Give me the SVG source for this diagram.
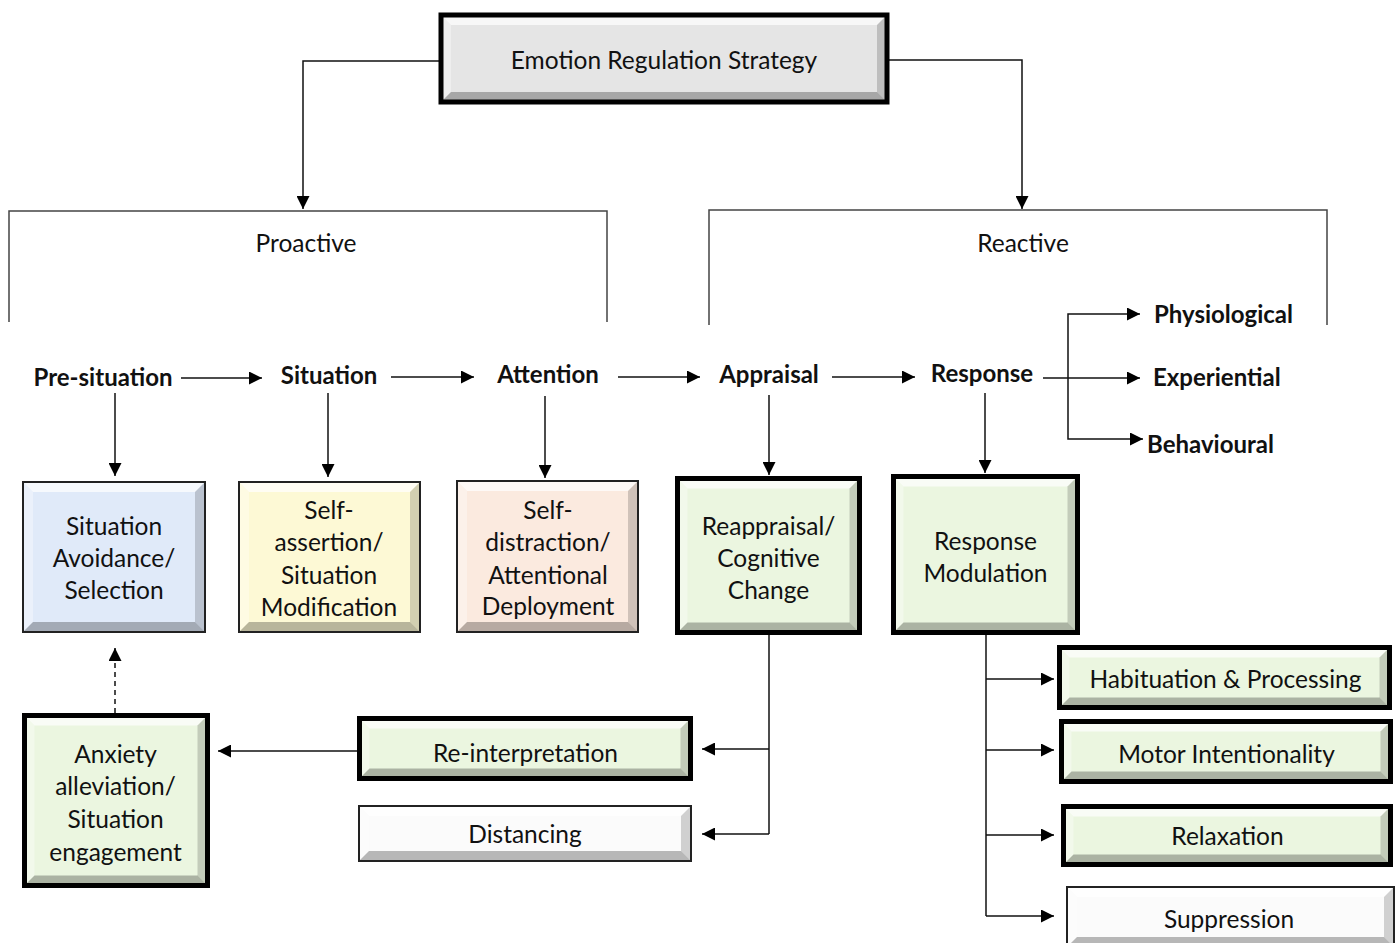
<svg xmlns="http://www.w3.org/2000/svg" width="1397" height="943" viewBox="0 0 1397 943">
<defs>
<marker id="ah" viewBox="0 0 10 10" refX="10" refY="5" markerWidth="13" markerHeight="13" markerUnits="userSpaceOnUse" orient="auto"><path d="M0,0 L10,5 L0,10 z" fill="#000"/></marker>
<style>
text{font-family:Lato,"Open Sans","Liberation Sans",sans-serif;fill:#111;text-anchor:middle}
.t{font-size:24.5px}
.b{font-size:24px;font-weight:bold}
.bs{font-size:24px;font-weight:bold;text-anchor:start}
.ln{fill:none;stroke:#111;stroke-width:1.5}
.br{fill:none;stroke:#444;stroke-width:1.5}
.arr{fill:none;stroke:#111;stroke-width:1.5;marker-end:url(#ah)}
.thick{fill:none;stroke:#000;stroke-width:5}
.thin{fill:none;stroke:#222;stroke-width:2}
.gray{fill:#e5e5e5}.blue{fill:#e0eaf9}.yel{fill:#fdf9d5}.pea{fill:#fbeadf}.grn{fill:#ebf6e0}.wht{fill:#fbfbfb}
.bt{fill:#fff;fill-opacity:.7}.bl{fill:#fff;fill-opacity:.35}.bR{fill:#000;fill-opacity:.17}.bB{fill:#000;fill-opacity:.27}
</style>
</defs>

<g id="connectors">
<polyline class="arr" points="440,61 303,61 303,209"/>
<polyline class="arr" points="888,60 1022,60 1022,209"/>
<polyline class="br" points="9,322 9,211 607,211 607,322"/>
<polyline class="br" points="709,325 709,210 1327,210 1327,325"/>
<line class="arr" x1="181" y1="378" x2="262" y2="378"/>
<line class="arr" x1="391" y1="377" x2="474" y2="377"/>
<line class="arr" x1="618" y1="377" x2="700" y2="377"/>
<line class="arr" x1="832" y1="377" x2="915" y2="377"/>
<line class="arr" x1="1043" y1="378" x2="1140" y2="378"/>
<polyline class="arr" points="1068,376 1068,314 1140,314"/>
<polyline class="arr" points="1068,376 1068,439 1143,439"/>
<line class="arr" x1="115" y1="393" x2="115" y2="476"/>
<line class="arr" x1="328" y1="393" x2="328" y2="477"/>
<line class="arr" x1="545" y1="396" x2="545" y2="478"/>
<line class="arr" x1="769" y1="395" x2="769" y2="475"/>
<line class="arr" x1="985" y1="393" x2="985" y2="473"/>
<line class="arr" x1="115" y1="713" x2="115" y2="648" stroke-dasharray="5,4"/>
<line class="arr" x1="357" y1="751" x2="218" y2="751"/>
<polyline class="ln" points="769,635 769,834"/>
<line class="arr" x1="769" y1="749" x2="702" y2="749"/>
<line class="arr" x1="769" y1="834" x2="702" y2="834"/>
<polyline class="ln" points="986,635 986,916"/>
<line class="arr" x1="986" y1="679" x2="1054" y2="679"/>
<line class="arr" x1="986" y1="750" x2="1054" y2="750"/>
<line class="arr" x1="986" y1="835" x2="1054" y2="835"/>
<line class="arr" x1="986" y1="916" x2="1054" y2="916"/>
</g>

<g id="labels">
<text class="t" x="306" y="252">Proactive</text>
<text class="t" x="1023" y="252">Reactive</text>
<text class="b" x="103" y="386">Pre-situation</text>
<text class="b" x="329" y="384">Situation</text>
<text class="b" x="548" y="383">Attention</text>
<text class="b" x="769" y="383">Appraisal</text>
<text class="b" x="982" y="382">Response</text>
<text class="bs" x="1154" y="323">Physiological</text>
<text class="bs" x="1153" y="386">Experiential</text>
<text class="bs" x="1147" y="453">Behavioural</text>
</g>

<g id="n-top" transform="translate(441,15)">
<rect class="gray" width="446" height="87"/>
<polygon class="bt" points="0,0 446,0 436,10 10,10"/><polygon class="bl" points="0,0 10,10 10,77 0,87"/>
<polygon class="bR" points="446,0 446,87 436,77 436,10"/><polygon class="bB" points="0,87 446,87 436,77 10,77"/>
<rect class="thick" width="446" height="87"/>
<text class="t" x="223" y="54">Emotion Regulation Strategy</text>
</g>

<g id="n-avoid" transform="translate(23,482)">
<rect class="blue" width="182" height="150"/>
<polygon class="bt" points="0,0 182,0 172,10 10,10"/><polygon class="bl" points="0,0 10,10 10,140 0,150"/>
<polygon class="bR" points="182,0 182,150 172,140 172,10"/><polygon class="bB" points="0,150 182,150 172,140 10,140"/>
<rect class="thin" width="182" height="150"/>
<text class="t" x="91" y="53">Situation</text><text class="t" x="91" y="85">Avoidance/</text><text class="t" x="91" y="117">Selection</text>
</g>

<g id="n-assert" transform="translate(239,482)">
<rect class="yel" width="181" height="150"/>
<polygon class="bt" points="0,0 181,0 171,10 10,10"/><polygon class="bl" points="0,0 10,10 10,140 0,150"/>
<polygon class="bR" points="181,0 181,150 171,140 171,10"/><polygon class="bB" points="0,150 181,150 171,140 10,140"/>
<rect class="thin" width="181" height="150"/>
<text class="t" x="90" y="37">Self-</text><text class="t" x="90" y="69">assertion/</text><text class="t" x="90" y="102">Situation</text><text class="t" x="90" y="134">Modification</text>
</g>

<g id="n-distract" transform="translate(457,481)">
<rect class="pea" width="181" height="151"/>
<polygon class="bt" points="0,0 181,0 171,10 10,10"/><polygon class="bl" points="0,0 10,10 10,141 0,151"/>
<polygon class="bR" points="181,0 181,151 171,141 171,10"/><polygon class="bB" points="0,151 181,151 171,141 10,141"/>
<rect class="thin" width="181" height="151"/>
<text class="t" x="91" y="38">Self-</text><text class="t" x="91" y="70">distraction/</text><text class="t" x="91" y="103">Attentional</text><text class="t" x="91" y="134">Deployment</text>
</g>

<g id="n-reappraisal" transform="translate(677.5,478.5)">
<rect class="grn" width="182" height="154"/>
<polygon class="bt" points="0,0 182,0 172,10 10,10"/><polygon class="bl" points="0,0 10,10 10,144 0,154"/>
<polygon class="bR" points="182,0 182,154 172,144 172,10"/><polygon class="bB" points="0,154 182,154 172,144 10,144"/>
<rect class="thick" width="182" height="154"/>
<text class="t" x="91" y="56">Reappraisal/</text><text class="t" x="91" y="88">Cognitive</text><text class="t" x="91" y="120">Change</text>
</g>

<g id="n-respmod" transform="translate(893.5,476.5)">
<rect class="grn" width="184" height="156"/>
<polygon class="bt" points="0,0 184,0 174,10 10,10"/><polygon class="bl" points="0,0 10,10 10,146 0,156"/>
<polygon class="bR" points="184,0 184,156 174,146 174,10"/><polygon class="bB" points="0,156 184,156 174,146 10,146"/>
<rect class="thick" width="184" height="156"/>
<text class="t" x="92" y="73">Response</text><text class="t" x="92" y="105">Modulation</text>
</g>

<g id="n-anxiety" transform="translate(24.5,715.5)">
<rect class="grn" width="183" height="170"/>
<polygon class="bt" points="0,0 183,0 173,10 10,10"/><polygon class="bl" points="0,0 10,10 10,160 0,170"/>
<polygon class="bR" points="183,0 183,170 173,160 173,10"/><polygon class="bB" points="0,170 183,170 173,160 10,160"/>
<rect class="thick" width="183" height="170"/>
<text class="t" x="91" y="47">Anxiety</text><text class="t" x="91" y="79">alleviation/</text><text class="t" x="91" y="112">Situation</text><text class="t" x="91" y="145">engagement</text>
</g>

<g id="n-reinterp" transform="translate(359.5,718.5)">
<rect class="grn" width="331" height="60"/>
<polygon class="bt" points="0,0 331,0 321,10 10,10"/><polygon class="bl" points="0,0 10,10 10,50 0,60"/>
<polygon class="bR" points="331,0 331,60 321,50 321,10"/><polygon class="bB" points="0,60 331,60 321,50 10,50"/>
<rect class="thick" width="331" height="60"/>
<text class="t" x="166" y="43">Re-interpretation</text>
</g>

<g id="n-distancing" transform="translate(359,806)">
<rect class="wht" width="332" height="55"/>
<polygon class="bt" points="0,0 332,0 322,10 10,10"/><polygon class="bl" points="0,0 10,10 10,45 0,55"/>
<polygon class="bR" points="332,0 332,55 322,45 322,10"/><polygon class="bB" points="0,55 332,55 322,45 10,45"/>
<rect class="thin" width="332" height="55"/>
<text class="t" x="166" y="37">Distancing</text>
</g>

<g id="n-habituation" transform="translate(1059.5,647.5)">
<rect class="grn" width="330" height="60"/>
<polygon class="bt" points="0,0 330,0 320,10 10,10"/><polygon class="bl" points="0,0 10,10 10,50 0,60"/>
<polygon class="bR" points="330,0 330,60 320,50 320,10"/><polygon class="bB" points="0,60 330,60 320,50 10,50"/>
<rect class="thick" width="330" height="60"/>
<text class="t" x="166" y="40">Habituation &amp; Processing</text>
</g>

<g id="n-motor" transform="translate(1061.5,721.5)">
<rect class="grn" width="329" height="60"/>
<polygon class="bt" points="0,0 329,0 319,10 10,10"/><polygon class="bl" points="0,0 10,10 10,50 0,60"/>
<polygon class="bR" points="329,0 329,60 319,50 319,10"/><polygon class="bB" points="0,60 329,60 319,50 10,50"/>
<rect class="thick" width="329" height="60"/>
<text class="t" x="165" y="41">Motor Intentionality</text>
</g>

<g id="n-relax" transform="translate(1063.5,806.5)">
<rect class="grn" width="327" height="58"/>
<polygon class="bt" points="0,0 327,0 317,10 10,10"/><polygon class="bl" points="0,0 10,10 10,48 0,58"/>
<polygon class="bR" points="327,0 327,58 317,48 317,10"/><polygon class="bB" points="0,58 327,58 317,48 10,48"/>
<rect class="thick" width="327" height="58"/>
<text class="t" x="164" y="38">Relaxation</text>
</g>

<g id="n-suppression" transform="translate(1067,887)">
<rect class="wht" width="327" height="60"/>
<polygon class="bt" points="0,0 327,0 317,10 10,10"/><polygon class="bl" points="0,0 10,10 10,50 0,60"/>
<polygon class="bR" points="327,0 327,60 317,50 317,10"/><polygon class="bB" points="0,60 327,60 317,50 10,50"/>
<rect class="thin" width="327" height="60"/>
<text class="t" x="162" y="41">Suppression</text>
</g>
</svg>
